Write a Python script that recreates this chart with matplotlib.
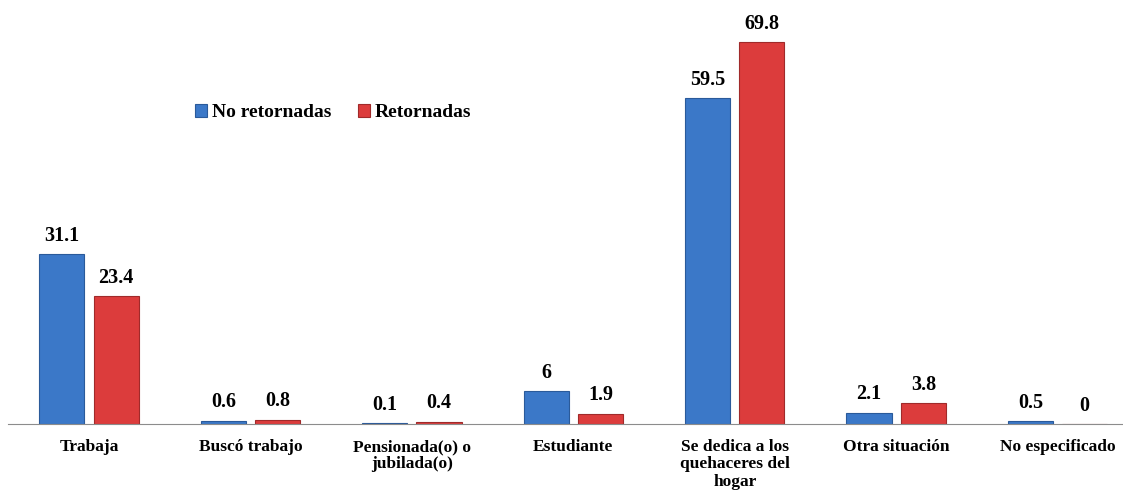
import matplotlib.pyplot as plt
import numpy as np

categorias = ["Trabaja", "Buscó trabajo", "Pensionada(o) o\njubilada(o)", "Estudiante",
              "Se dedica a los\nquehaceres del\nhogar", "Otra situación", "No especificado"]
no_retornadas = [31.1, 0.6, 0.1, 6, 59.5, 2.1, 0.5]
retornadas = [23.4, 0.8, 0.4, 1.9, 69.8, 3.8, 0]
series = ["No retornadas", "Retornadas"]

plt.rcParams['font.family'] = ['Liberation Serif', 'DejaVu Serif']
plt.rcParams['font.weight'] = 'bold'

fig = plt.figure(figsize=(11.23, 5.0), dpi=100)
ax = fig.add_axes([8.3 / 1123, 76 / 500, 1130 / 1123, 424 / 500])

x = np.arange(len(categorias))
w = 0.28
off = 0.168

b1 = ax.bar(x - off, no_retornadas, w, color='#3b78c8', edgecolor='#2a5a9a', linewidth=0.8,
            label=series[0])
b2 = ax.bar(x + off, retornadas, w, color='#dc3c3c', edgecolor='#a02a2a', linewidth=0.8,
            label=series[1])

for bars, vals in ((b1, no_retornadas), (b2, retornadas)):
    for b, v in zip(bars, vals):
        ax.annotate(f"{v:g}", (b.get_x() + b.get_width() / 2, v), xytext=(0, 6),
                    textcoords='offset points', ha='center', va='bottom',
                    fontsize=14.5, fontweight='bold')

ax.set_xlim(-0.5, len(categorias) - 0.5)
ax.set_ylim(0, 77.5)
ax.set_xticks(x)
ax.set_xticklabels(categorias, fontsize=12.5, fontweight='bold', linespacing=1.1)
ax.tick_params(axis='x', length=0, pad=11)
ax.set_yticks([])
for s in ['top', 'right', 'left']:
    ax.spines[s].set_visible(False)
ax.spines['bottom'].set_color('#8c8c8c')

ax.legend(loc='upper left', bbox_to_anchor=(0.15, 0.795), ncol=2, frameon=False,
          prop={'size': 14, 'weight': 'bold'}, handlelength=0.6, handleheight=0.6,
          handletextpad=0.25, columnspacing=1.4)

fig.savefig('out.png', dpi=100)
